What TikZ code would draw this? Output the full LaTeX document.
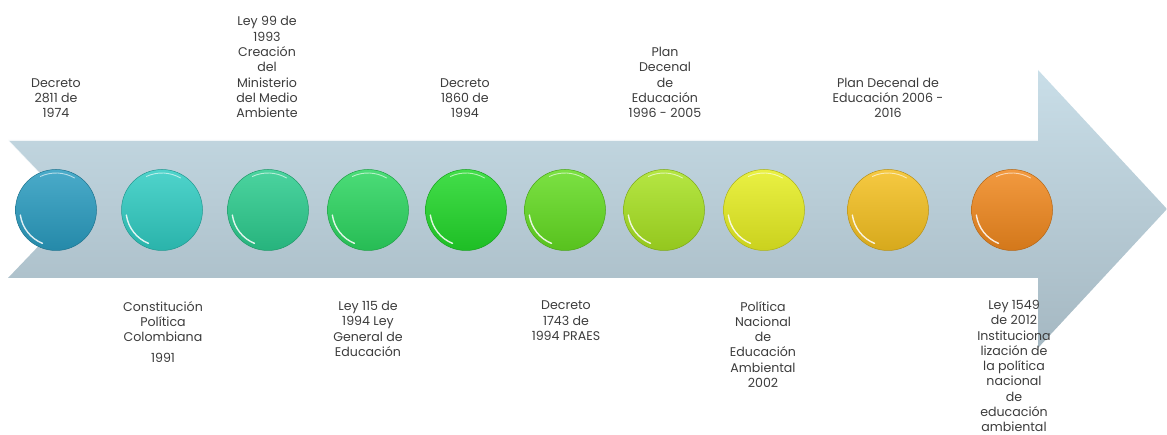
\documentclass[tikz,border=0pt]{standalone}
\usepackage{fontspec}
\setmainfont{Poppins}
\definecolor{arrtop}{HTML}{C9DEE8}
\definecolor{arrbot}{HTML}{A5B8C2}
\definecolor{txt}{HTML}{3C3C3C}
\definecolor{b1}{HTML}{2A9CC0}
\definecolor{b2}{HTML}{30CCC2}
\definecolor{b3}{HTML}{2CCC8E}
\definecolor{b4}{HTML}{2CD660}
\definecolor{b5}{HTML}{22D82A}
\definecolor{b6}{HTML}{64DC22}
\definecolor{b7}{HTML}{A8E222}
\definecolor{b8}{HTML}{E6EE22}
\definecolor{b9}{HTML}{F4C020}
\definecolor{b10}{HTML}{F0881E}
\tikzset{
  ball/.style={circle, minimum size=81pt, inner sep=0pt, draw=#1!75!black, line width=0.5pt,
    top color=#1!85!white, bottom color=#1!88!black},
  lbl/.style={align=center, inner sep=0pt, text=txt, font=\fontsize{12.6}{15.3}\selectfont},
  toplbl/.style={lbl, anchor=south},
  botlbl/.style={lbl, anchor=north},
  shine/.style={white, line width=1.4pt, opacity=0.85, line cap=round},
}
\begin{document}
\begin{tikzpicture}[x=1pt, y=-1pt]
\useasboundingbox (0,0) rectangle (1167,435);
% arrow
\shade[top color=arrtop, bottom color=arrbot]
  (8,140) -- (1038,140) -- (1038,70) -- (1167,209) -- (1038,348) -- (1038,278)
  -- (8,278) -- (74,209) -- cycle;
\draw[white, line width=1.2pt, opacity=0.8] (8,140) -- (1038,140);
\draw[white, line width=0.8pt, opacity=0.6] (8,140) -- (74,209);
% balls
\foreach \i/\x in {1/56,2/162,3/268,4/368,5/466,6/565,7/664,8/764,9/888,10/1012} {
  \node[ball=b\i] (c\i) at (\x,210) {};
  \draw[shine] (c\i.center) ++(172:36) arc[start angle=172, end angle=112, radius=36];
  \draw[shine, line width=0.9pt, opacity=0.6] (c\i.center) ++(245:37) arc[start angle=245, end angle=300, radius=37];
}
% top labels
\node[toplbl] (t1) at (56,118) {Decreto\\2811 de\\1974};
\node[toplbl] (t3) at (267,118) {Ley 99 de\\1993\\Creación\\del\\Ministerio\\del Medio\\Ambiente};
\node[toplbl] (t5) at (465,118) {Decreto\\1860 de\\1994};
\node[toplbl] (t7) at (665,118) {Plan\\Decenal\\de\\Educación\\1996 - 2005};
\node[toplbl] (t9) at (888,118) {Plan Decenal de\\Educación 2006 -\\2016};
% bottom labels
\node[botlbl] (t2) at (163,301) {Constitución\\Política\\Colombiana\\[5pt]1991};
\node[botlbl] (t4) at (368,301) {Ley 115 de\\1994 Ley\\General de\\Educación};
\node[botlbl] (t6) at (566,301) {Decreto\\1743 de\\1994 PRAES};
\node[botlbl] (t8) at (763,301) {Política\\Nacional\\de\\Educación\\Ambiental\\2002};
\node[botlbl] (t10) at (1014,300) {Ley 1549\\de 2012\\Instituciona\\lización de\\la política\\nacional\\de\\educación\\ambiental};
\end{tikzpicture}
\end{document}
